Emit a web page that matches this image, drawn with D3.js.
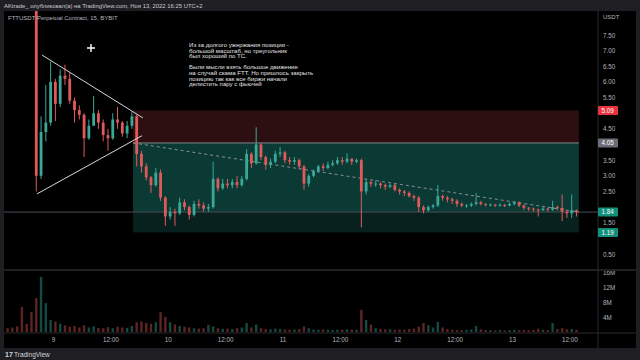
<!DOCTYPE html>
<html>
<head>
<meta charset="utf-8">
<script src="https://cdn.jsdelivr.net/npm/d3@7"></script>
<style>
  html, body { margin: 0; padding: 0; background: #1f1f23; }
  svg { display: block; font-family: "Liberation Sans", Arial, sans-serif; }
</style>
</head>
<body>
<svg id="chart" width="640" height="360"></svg>
<script>
// hourly candles, first one starts Nov 8 14:00 (UTC on the chart clock)
const firstCandle = Date.UTC(2022, 10, 8, 14, 0);
const firstOpen = 22;
const closes = [21, 19, 16, 13, 11, 9.6, 3.0, 4.4, 4.7, 6.0,
  5.3, 6.2, 6.1, 5.4, 5.1, 4.95, 4.2, 4.6, 5.0, 4.7, 4.3, 4.2, 4.8, 4.7, 4.35, 4.6, 4.9, 3.7, 3.3, 2.95, 2.7, 3.1, 2.3, 1.7,
  1.85, 1.8, 2.15, 2.0, 1.75, 2.1, 2.05, 1.95, 2.0, 2.9, 2.6, 2.75, 2.7, 2.8, 2.7, 2.9, 3.7, 3.4, 4.0, 3.6, 3.35, 3.45, 3.7, 3.75,
  3.5, 3.45, 3.5, 3.3, 2.75, 3.0, 3.15, 3.3, 3.25, 3.35, 3.4, 3.5, 3.45, 3.55, 3.45, 3.5, 2.5, 2.8, 2.75, 2.75, 2.7, 2.65, 2.7, 2.55,
  2.5, 2.45, 2.35, 2.3, 2.0, 1.9, 2.0, 2.05, 2.35, 2.3, 2.25, 2.2, 2.1, 2.05, 2.05, 2.1, 2.15, 2.1, 2.07, 2.08, 2.06, 2.07, 2.05, 2.1,
  2.15, 2.05, 1.98, 1.95, 1.92, 1.9, 1.95, 1.92, 2.0, 1.97, 1.85, 1.8, 1.9, 1.84];
const highs = [22.5, 21.5, 19.5, 16.5, 13.5, 11.5, 9.8, 4.9, 5.9, 6.65,
  6.1, 6.4, 6.55, 6.3, 5.5, 5.25, 5.0, 4.8, 5.55, 5.1, 4.8, 4.5, 5.0, 5.2, 4.75, 4.75, 5.05, 4.95, 3.8, 3.4, 3.0, 3.25, 3.2, 2.35,
  2.0, 1.95, 2.3, 2.25, 2.05, 2.2, 2.25, 2.15, 2.1, 3.45, 2.95, 2.9, 2.9, 2.9, 3.0, 3.0, 3.85, 3.75, 4.55, 4.05, 3.65, 3.55, 3.8, 3.92,
  3.8, 3.6, 3.6, 3.55, 3.35, 3.05, 3.2, 3.35, 3.4, 3.45, 3.5, 3.6, 3.6, 3.72, 3.55, 3.55, 3.55, 2.9, 2.85, 2.85, 2.8, 2.75, 2.75, 2.75,
  2.6, 2.55, 2.5, 2.4, 2.35, 2.05, 2.05, 2.1, 2.7, 2.4, 2.35, 2.3, 2.25, 2.15, 2.1, 2.15, 2.45, 2.2, 2.12, 2.12, 2.1, 2.12, 2.1, 2.15,
  2.2, 2.18, 2.08, 2.0, 1.98, 1.95, 2.0, 1.98, 2.2, 2.05, 2.4, 1.9, 2.4, 1.92];
const lows = [20.5, 18.5, 15.5, 12.5, 10.5, 9.2, 2.5, 2.9, 4.1, 4.6,
  4.75, 5.2, 5.9, 5.3, 4.7, 4.8, 3.6, 4.15, 4.6, 4.5, 4.1, 3.8, 4.15, 4.5, 4.25, 4.2, 4.5, 3.3, 3.1, 2.85, 2.45, 2.65, 2.2, 1.4,
  1.6, 1.4, 1.75, 1.9, 1.6, 1.7, 1.95, 1.85, 1.85, 1.95, 2.5, 2.55, 2.6, 2.6, 2.6, 2.65, 2.85, 3.25, 3.35, 3.5, 3.2, 3.25, 3.4, 3.6,
  3.4, 3.35, 3.35, 3.2, 2.55, 2.65, 2.95, 3.1, 3.15, 3.2, 3.3, 3.35, 3.35, 3.4, 3.35, 3.4, 1.35, 2.4, 2.65, 2.65, 2.6, 2.55, 2.6, 2.5,
  2.4, 2.35, 2.3, 2.2, 1.85, 1.8, 1.85, 1.95, 2.0, 2.2, 2.15, 2.1, 2.0, 2.0, 1.98, 2.0, 2.05, 2.05, 2.02, 2.02, 2.0, 2.02, 2.0, 2.02,
  2.05, 2.0, 1.9, 1.88, 1.85, 1.7, 1.88, 1.85, 1.88, 1.9, 1.55, 1.65, 1.65, 1.7];
// volume in millions, as drawn
const volumes = [1.0, 1.2, 1.5, 6.7, 2.2, 5.3, 9.0, 14.7, 7.7, 3.2,
  2.8, 2.2, 1.8, 1.4, 1.6, 1.2, 1.8, 1.2, 1.5, 1.1, 1.0, 1.3, 1.0, 1.4, 1.2, 1.1, 1.6, 2.6, 2.8, 2.4, 2.2, 2.6, 5.3, 4.0,
  2.6, 2.0, 1.6, 1.4, 1.2, 1.0, 0.9, 1.0, 1.9, 1.5, 1.0, 0.8, 0.9, 0.8, 1.0, 1.2, 2.4, 1.2, 2.0, 1.0, 0.8, 0.7, 0.9, 0.8,
  0.7, 0.6, 0.7, 0.8, 1.5, 1.0, 0.7, 0.6, 0.7, 0.6, 0.5, 0.6, 0.6, 0.7, 0.6, 0.6, 5.9, 3.2, 2.0, 1.0, 0.8, 0.7, 0.7, 0.6,
  0.7, 0.6, 0.8, 0.9, 1.4, 2.4, 1.8, 1.2, 2.7, 1.2, 0.8, 0.6, 0.5, 0.5, 0.6, 0.7, 1.6, 0.7, 0.5, 0.5, 0.4, 0.5, 0.4, 0.5,
  0.6, 0.5, 0.5, 0.5, 0.6, 0.9, 0.6, 0.5, 2.4, 0.8, 1.0, 0.7, 0.8, 0.6];

const priceTicks = [0.5, 1, 1.5, 2, 2.5, 3, 3.5, 4, 4.5, 5, 5.5, 6, 6.5, 7, 7.5];
const volumeTicks = [4, 8, 12, 16];

// short position tool
const stopPrice = 5.09, entryPrice = 4.05, lastPrice = 1.84, targetPrice = 1.19;
const positionStart = Date.UTC(2022, 10, 9, 16, 45);
const positionEnd = Date.UTC(2022, 10, 13, 14, 0);

// triangle drawing
const triangleUpper = [[Date.UTC(2022, 10, 8, 21, 42), 6.86], [Date.UTC(2022, 10, 9, 18, 48), 4.85]];
const triangleLower = [[Date.UTC(2022, 10, 8, 20, 39), 2.42], [Date.UTC(2022, 10, 9, 18, 36), 4.28]];

const noteLines = [
  "Из за долгого ужержания позиции -",
  "большой масштаб, но треугольник",
  "был хороший по ТС.",
  "",
  "Были мысли взять большое движение",
  "на случай скама FTT. Но пришлось закрыть",
  "позицию так как все биржи начали",
  "делистить пару с фьючей"
];

const upColor = "#3aa897", downColor = "#e05a5a";
const HOUR = 3600 * 1000;

const candles = closes.map((c, i) => ({
  t: firstCandle + i * HOUR,
  open: i === 0 ? firstOpen : closes[i - 1],
  close: c,
  high: highs[i],
  low: lows[i],
  vol: volumes[i] * 1e6
}));

const svg = d3.select("#chart");
const paneL = 4, paneR = 598, paneT = 11, priceB = 270, volB = 333, frameB = 348, frameR = 636;

const x = d3.scaleUtc()
  .domain([Date.UTC(2022, 10, 8, 13, 45), Date.UTC(2022, 10, 13, 18, 0)])
  .range([paneL, paneR]);
const y = d3.scaleLinear().domain([0.5, 7.5]).range([254, 35]);
const vy = d3.scaleLinear().domain([0, 16e6]).range([332, 272]);

// frame
svg.append("rect").attr("x", paneL).attr("y", paneT).attr("width", frameR - paneL).attr("height", frameB - paneT).attr("fill", "#000");

const defs = svg.append("defs");
defs.append("clipPath").attr("id", "priceClip").append("rect")
  .attr("x", paneL).attr("y", paneT).attr("width", paneR - paneL).attr("height", priceB - paneT);
defs.append("clipPath").attr("id", "volClip").append("rect")
  .attr("x", paneL).attr("y", priceB).attr("width", paneR - paneL).attr("height", volB - priceB);
defs.append("clipPath").attr("id", "volAxisClip").append("rect")
  .attr("x", paneR).attr("y", priceB + 1).attr("width", frameR - paneR).attr("height", volB - priceB - 1);

const price = svg.append("g").attr("clip-path", "url(#priceClip)");

// position tool zones
const px0 = x(positionStart), px1 = x(positionEnd);
price.append("rect").attr("x", px0).attr("width", px1 - px0)
  .attr("y", y(stopPrice)).attr("height", y(entryPrice) - y(stopPrice)).attr("fill", "#2e0f11");
price.append("rect").attr("x", px0).attr("width", px1 - px0)
  .attr("y", y(entryPrice)).attr("height", y(lastPrice) - y(entryPrice)).attr("fill", "#0b3a35");
price.append("rect").attr("x", px0).attr("width", px1 - px0)
  .attr("y", y(lastPrice)).attr("height", y(targetPrice) - y(lastPrice)).attr("fill", "#08211f");
price.append("line").attr("x1", px0).attr("x2", px1).attr("y1", y(entryPrice)).attr("y2", y(entryPrice))
  .attr("stroke", "#80838b").attr("stroke-width", 1);
// last price line
price.append("line").attr("x1", paneL).attr("x2", paneR).attr("y1", y(lastPrice)).attr("y2", y(lastPrice))
  .attr("stroke", "#4a4d55").attr("stroke-width", 1);
// entry -> current dashed
price.append("line").attr("x1", px0).attr("y1", y(entryPrice)).attr("x2", px1).attr("y2", y(lastPrice))
  .attr("stroke", "#8a8d94").attr("stroke-width", 1).attr("stroke-dasharray", "3,3");

// candles
const bw = 2.8;
const cg = price.selectAll("g.candle").data(candles).join("g").attr("class", "candle");
cg.append("line")
  .attr("x1", d => x(d.t + HOUR / 2)).attr("x2", d => x(d.t + HOUR / 2))
  .attr("y1", d => y(d.high)).attr("y2", d => y(d.low))
  .attr("stroke", d => d.close >= d.open ? upColor : downColor).attr("stroke-width", 1);
cg.append("rect")
  .attr("x", d => x(d.t + HOUR / 2) - bw / 2).attr("width", bw)
  .attr("y", d => y(Math.max(d.open, d.close)))
  .attr("height", d => Math.max(1, Math.abs(y(d.open) - y(d.close))))
  .attr("fill", d => d.close >= d.open ? upColor : downColor);

// triangle
const line = d3.line().x(d => x(d[0])).y(d => y(d[1]));
[triangleUpper, triangleLower].forEach(seg => {
  price.append("path").attr("d", line(seg)).attr("fill", "none").attr("stroke", "#d6d8de").attr("stroke-width", 1);
});

// cursor cross
price.append("path").attr("d", "M87,48H95M91,44V52").attr("stroke", "#fff").attr("stroke-width", 1.4);

// note text
const note = svg.append("text").attr("x", 189).attr("y", 47).attr("fill", "#e4e4e4").attr("font-size", 6.1);
noteLines.forEach((t, i) => {
  note.append("tspan").attr("x", 189).attr("dy", i === 0 ? 0 : 5.6).text(t === "" ? " " : t);
});

// volume pane
const vol = svg.append("g").attr("clip-path", "url(#volClip)");
vol.selectAll("rect").data(candles).join("rect")
  .attr("x", d => x(d.t + HOUR / 2) - 1.2).attr("width", 2.4)
  .attr("y", d => vy(d.vol)).attr("height", d => vy(0) - vy(d.vol))
  .attr("fill", d => d.close >= d.open ? "#134a44" : "#5e2424");

// separators
svg.append("line").attr("x1", paneL).attr("x2", frameR).attr("y1", priceB).attr("y2", priceB).attr("stroke", "#2a2a2e").attr("stroke-width", 1.5);
svg.append("line").attr("x1", paneL).attr("x2", frameR).attr("y1", volB).attr("y2", volB).attr("stroke", "#2a2a2e");
svg.append("line").attr("x1", paneR).attr("x2", paneR).attr("y1", paneT).attr("y2", frameB).attr("stroke", "#2a2a2e");

// price axis (labels hidden under the coloured boxes)
const boxPrices = [stopPrice, entryPrice, lastPrice, targetPrice];
const yAxis = d3.axisRight(y)
  .tickValues(priceTicks.filter(p => boxPrices.every(b => Math.abs(y(b) - y(p)) > 6.5)))
  .tickFormat(d3.format(".2f")).tickSize(0).tickPadding(5);
svg.append("g").attr("transform", `translate(${paneR},0)`).call(yAxis)
  .call(g => g.select(".domain").remove())
  .call(g => g.selectAll("text").attr("fill", "#b2b5be").attr("font-size", 6.3).attr("font-family", null));

const vAxis = d3.axisRight(vy).tickValues(volumeTicks.map(v => v * 1e6))
  .tickFormat(d => d / 1e6 + "M").tickSize(0).tickPadding(5);
svg.append("g").attr("clip-path", "url(#volAxisClip)")
  .append("g").attr("transform", `translate(${paneR},0)`).call(vAxis)
  .call(g => g.select(".domain").remove())
  .call(g => g.selectAll("text").attr("fill", "#b2b5be").attr("font-size", 6.3).attr("font-family", null));

// price labels
const boxColors = ["#e8333f", "#6b6e76", "#12907c", "#12907c"];
boxPrices.forEach((p, i) => {
  svg.append("rect").attr("x", paneR).attr("y", y(p) - 4.5).attr("width", 20).attr("height", 9)
    .attr("rx", 1).attr("fill", boxColors[i]);
  svg.append("text").attr("x", paneR + 3.5).attr("y", y(p) + 2.3).attr("fill", "#fff")
    .attr("font-size", 6.3).text(p.toFixed(2));
});

// time axis
const timeTicks = d3.utcHour.every(12).range(Date.UTC(2022, 10, 9), Date.UTC(2022, 10, 13, 13));
const xAxis = d3.axisBottom(x).tickValues(timeTicks)
  .tickFormat(d => d.getUTCHours() === 0 ? String(d.getUTCDate()) : "12:00")
  .tickSize(0).tickPadding(5);
svg.append("g").attr("transform", `translate(0,${volB})`).call(xAxis)
  .call(g => g.select(".domain").remove())
  .call(g => g.selectAll("text").attr("fill", "#b2b5be").attr("font-size", 6.3).attr("font-family", null));

// header & labels
svg.append("text").attr("x", 4).attr("y", 7.5).attr("fill", "#c9cacf").attr("font-size", 5.9)
  .text("AKtrade_ опубликовал(а) на TradingView.com, Ноя 13, 2022 16:25 UTC+2");
svg.append("text").attr("x", 8).attr("y", 20).attr("fill", "#b2b5be").attr("font-size", 6)
  .text("FTTUSDT Perpetual Contract, 15, BYBIT");
svg.append("text").attr("x", 603).attr("y", 19).attr("fill", "#b2b5be").attr("font-size", 6).text("USDT");

// footer
svg.append("text").attr("x", 5).attr("y", 357).attr("fill", "#d1d4dc").attr("font-size", 7).attr("font-weight", "bold").text("17");
svg.append("text").attr("x", 14).attr("y", 357).attr("fill", "#d1d4dc").attr("font-size", 6.5).text("TradingView");
</script>
</body>
</html>
